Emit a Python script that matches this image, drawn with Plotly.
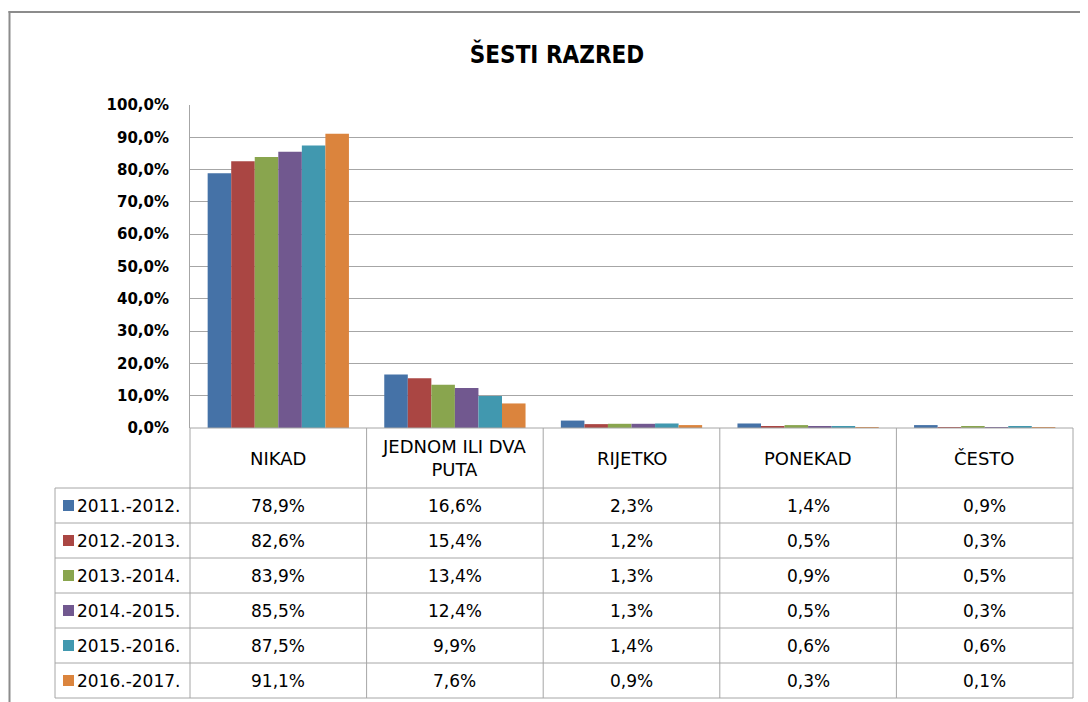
import plotly.graph_objects as go

W, H = 1088, 702

title = "ŠESTI RAZRED"
categories = ["NIKAD", "JEDNOM ILI DVA<br>PUTA", "RIJETKO", "PONEKAD", "ČESTO"]
series_names = ["2011.-2012.", "2012.-2013.", "2013.-2014.", "2014.-2015.", "2015.-2016.", "2016.-2017."]
v_2011 = [78.9, 16.6, 2.3, 1.4, 0.9]
v_2012 = [82.6, 15.4, 1.2, 0.5, 0.3]
v_2013 = [83.9, 13.4, 1.3, 0.9, 0.5]
v_2014 = [85.5, 12.4, 1.3, 0.5, 0.3]
v_2015 = [87.5, 9.9, 1.4, 0.6, 0.6]
v_2016 = [91.1, 7.6, 0.9, 0.3, 0.1]
series_values = [v_2011, v_2012, v_2013, v_2014, v_2015, v_2016]
colors = ["#4572A7", "#AA4643", "#89A54E", "#71588F", "#4198AF", "#DB843D"]

# layout in screen pixels (page has an 8px body margin)
OFF = 8
plot_l, plot_r = 190, 1073
plot_t, plot_b = 105, 428
legend_l = 55
header_b = 488
row_h = 35
grid_col = "#a6a6a6"


def px(x):
    return (x - OFF) / W


def py(y):
    return 1 - (y - OFF) / H


fig = go.Figure()
for name, vals, col in zip(series_names, series_values, colors):
    fig.add_trace(go.Bar(x=categories, y=vals, name=name, marker=dict(color=col, line=dict(width=0))))

shapes = []
annotations = []

# outer chart border
shapes.append(dict(type="line", xref="paper", yref="paper", x0=px(8.5), x1=px(W + 20), y0=py(12), y1=py(12),
                   line=dict(color="#8c8c8c", width=2)))
shapes.append(dict(type="line", xref="paper", yref="paper", x0=px(9.5), x1=px(9.5), y0=py(11), y1=py(H + 20),
                   line=dict(color="#8c8c8c", width=2)))

# data table lines
n_rows = len(series_names)
table_b = header_b + n_rows * row_h
col_w = (plot_r - plot_l) / len(categories)
for i in range(len(categories) + 1):
    x = plot_l + i * col_w
    shapes.append(dict(type="line", xref="paper", yref="paper", x0=px(x), x1=px(x), y0=py(plot_b), y1=py(table_b),
                       line=dict(color=grid_col, width=1)))
shapes.append(dict(type="line", xref="paper", yref="paper", x0=px(legend_l), x1=px(legend_l), y0=py(header_b),
                   y1=py(table_b), line=dict(color=grid_col, width=1)))
shapes.append(dict(type="line", xref="paper", yref="paper", x0=px(plot_l), x1=px(plot_r), y0=py(plot_b),
                   y1=py(plot_b), line=dict(color=grid_col, width=1)))
for r in range(n_rows + 1):
    y = header_b + r * row_h
    shapes.append(dict(type="line", xref="paper", yref="paper", x0=px(legend_l), x1=px(plot_r), y0=py(y), y1=py(y),
                       line=dict(color=grid_col, width=1)))

# header cells
for cat in categories:
    annotations.append(dict(x=cat, xref="x", y=py((plot_b + header_b) / 2), yref="paper", text=cat,
                            showarrow=False, xanchor="center", yanchor="middle",
                            font=dict(family="DejaVu Sans", size=18, color="#000000")))

# rows
for r, (name, vals, col) in enumerate(zip(series_names, series_values, colors)):
    yc = header_b + r * row_h + row_h / 2
    shapes.append(dict(type="rect", xref="paper", yref="paper", x0=px(63), x1=px(74), y0=py(yc - 5.5),
                       y1=py(yc + 5.5), fillcolor=col, line=dict(width=0)))
    annotations.append(dict(x=px(75), xref="paper", y=py(yc), yref="paper", text=name, showarrow=False,
                            xanchor="left", yanchor="middle",
                            font=dict(family="DejaVu Sans", size=17, color="#000000")))
    for cat, v in zip(categories, vals):
        annotations.append(dict(x=cat, xref="x", y=py(yc), yref="paper",
                                text=f"{v:.1f}%".replace(".", ","), showarrow=False,
                                xanchor="center", yanchor="middle",
                                font=dict(family="DejaVu Sans", size=17, color="#000000")))

fig.update_layout(
    width=W, height=H,
    margin=dict(l=0, r=0, t=0, b=0, autoexpand=False),
    paper_bgcolor="white", plot_bgcolor="white",
    showlegend=False,
    separators=",.",
    barmode="group", bargap=0.2, bargroupgap=0,
    title=dict(text=f"<b>{title}</b>", x=px(557), xanchor="center", y=py(55), yanchor="middle",
               font=dict(family="Liberation Sans Narrow, DejaVu Sans Condensed, Arial Narrow, sans-serif",
                         size=24, color="#000000")),
    xaxis=dict(domain=[px(plot_l), px(plot_r)], showticklabels=False, showgrid=False, showline=False,
               zeroline=False, ticks="", automargin=False),
    yaxis=dict(domain=[py(plot_b), py(plot_t)], range=[0, 100], dtick=10, tickformat=".1f", ticksuffix="%",
               showgrid=True, gridcolor=grid_col, gridwidth=1, showline=True, linecolor=grid_col, linewidth=1,
               zeroline=False, ticks="", ticklabelstandoff=17, automargin=False,
               tickfont=dict(family="DejaVu Sans", size=15, color="#000000", weight="bold")),
    shapes=shapes,
    annotations=annotations,
)

fig.write_html("out.html")
